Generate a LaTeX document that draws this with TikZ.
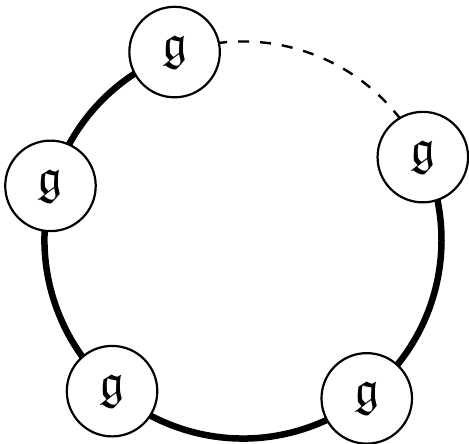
\documentclass[tikz,border=0pt]{standalone}
\usepackage{amssymb}
\DeclareFontFamily{U}{euf}{}
\DeclareFontShape{U}{euf}{m}{n}{<-> eufm10}{}
\begin{document}
\begin{tikzpicture}[x=1pt,y=1pt,
  vertex/.style={circle,draw,line width=2.2pt,fill=white,minimum size=90.5pt,inner sep=0pt,font=\fontsize{50}{56}\selectfont},
  ring/.style={line width=6.5pt},
  dashring/.style={line width=2.4pt,dash pattern=on 11pt off 11pt}]
\useasboundingbox (0,0) rectangle (469,444);
\coordinate (c) at (243,204);
\draw[ring] ([shift={(c)}]110:198.5) arc[start angle=110,end angle=385,radius=198.5];
\draw[dashring] ([shift={(c)}]24.75:198.5) arc[start angle=24.75,end angle=110,radius=198.5];
\node[vertex] (top) at ([shift={(c)}]110:200) {$\mathfrak{g}$};
\node[vertex] (right) at ([shift={(c)}]24.75:198) {$\mathfrak{g}$};
\node[vertex] (left) at ([shift={(c)}]164.3:200) {$\mathfrak{g}$};
\node[vertex] (bl) at ([shift={(c)}]229.1:200) {$\mathfrak{g}$};
\node[vertex] (br) at ([shift={(c)}]308:201) {$\mathfrak{g}$};
\end{tikzpicture}
\end{document}
